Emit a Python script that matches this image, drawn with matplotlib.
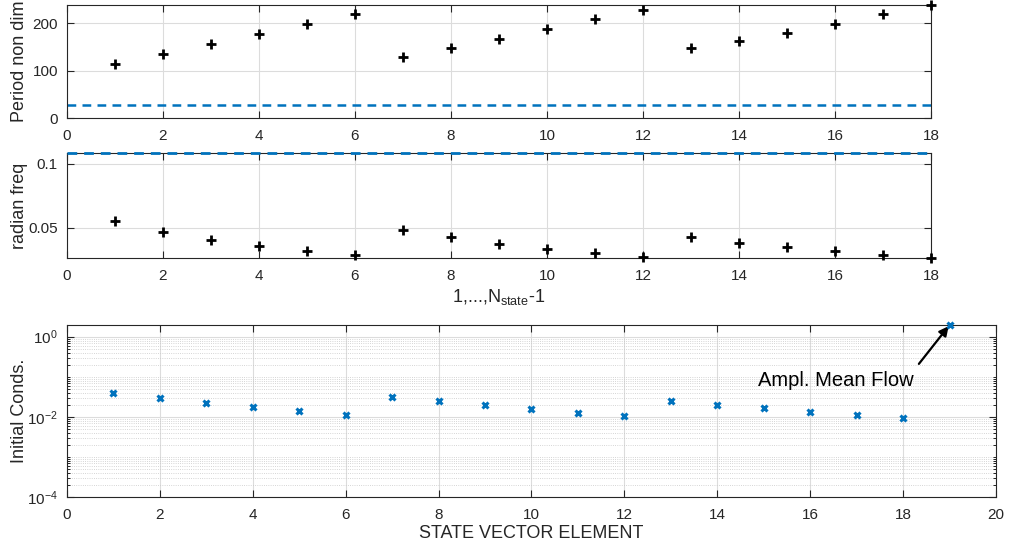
import numpy as np
import matplotlib
matplotlib.use('Agg')
import matplotlib.pyplot as plt
from matplotlib.ticker import LogLocator, NullFormatter, FixedLocator

plt.rcParams['font.family'] = ['Liberation Sans', 'DejaVu Sans']
plt.rcParams['mathtext.fontset'] = 'custom'
plt.rcParams['mathtext.rm'] = 'Liberation Sans'

# data
mode_idx = np.arange(1, 19)
period = [114, 135, 156, 176, 198, 219, 129, 147, 167, 187.5, 208, 228,
          148, 163, 180, 199, 219, 237]
period_limit = 27
rad_freq = [0.0551, 0.0465, 0.0403, 0.0357, 0.0317, 0.0287, 0.0487, 0.0427,
            0.0376, 0.0335, 0.0302, 0.0276, 0.0425, 0.0385, 0.0349, 0.0316,
            0.0287, 0.0265]
freq_limit = 0.1084
state_idx = np.arange(1, 20)
init_conds = [0.0395, 0.029, 0.0222, 0.0173, 0.0138, 0.011, 0.0319, 0.0254,
              0.0194, 0.0158, 0.0128, 0.0104, 0.0249, 0.0202, 0.0163, 0.0135,
              0.011, 0.0094, 1.95]

blue = '#0072BD'
dark = '#262626'
fs = 11        # tick labels
lfs = 13       # axis labels


def matlab_style(ax):
    ax.tick_params(direction='in', length=5, width=0.8, colors=dark,
                   labelsize=fs, top=True, right=True, which='major')
    ax.tick_params(axis='x', which='major', pad=8)
    ax.tick_params(axis='y', which='major', pad=6.5)
    ax.tick_params(direction='in', length=2.5, width=0.6, top=False,
                   right=True, which='minor')
    for s in ax.spines.values():
        s.set_color(dark)
        s.set_linewidth(0.8)
    ax.grid(True, which='major', color='#dcdcdc', lw=0.8)
    ax.set_axisbelow(True)


fig = plt.figure(figsize=(10.09, 5.54), dpi=100)

# period panel
ax1 = fig.add_axes([0.0664, 0.787, 0.8563, 0.204])
matlab_style(ax1)
ax1.plot(mode_idx, period, ls='none', marker='+', ms=7, mew=2, color='k',
         clip_on=False, zorder=5)
ax1.axhline(period_limit, color=blue, ls='--', lw=1.8, dashes=(3.5, 2.5))
ax1.set_xlim(0, 18)
ax1.set_ylim(0, 238)
ax1.set_xticks(np.arange(0, 19, 2))
ax1.set_yticks([0, 100, 200])
ax1.set_ylabel('Period non dim', fontsize=lfs, color=dark)
ax1.yaxis.set_label_coords(-0.045, 0.5)

# frequency panel
ax2 = fig.add_axes([0.0664, 0.5343, 0.8563, 0.1895])
matlab_style(ax2)
ax2.plot(mode_idx, rad_freq, ls='none', marker='+', ms=7, mew=2, color='k',
         clip_on=False, zorder=5)
ax2.axhline(freq_limit, color=blue, ls='--', lw=2, dashes=(3.5, 2.5),
            clip_on=False, zorder=6)
ax2.set_xlim(0, 18)
ax2.set_ylim(0.0265, freq_limit)
ax2.set_xticks(np.arange(0, 19, 2))
ax2.set_yticks([0.05, 0.1])
ax2.set_yticklabels(['0.05', '0.1'])
ax2.set_ylabel('radian freq', fontsize=lfs, color=dark)
ax2.yaxis.set_label_coords(-0.045, 0.5)
ax2.set_xlabel(r'1,...,N$\mathregular{_{state}}$-1', fontsize=lfs, color=dark,
               labelpad=3)

# initial conditions panel
ax3 = fig.add_axes([0.0664, 0.1023, 0.9207, 0.311])
ax3.set_yscale('log')
matlab_style(ax3)
ax3.grid(True, which='minor', axis='y', color='#c8c8c8', lw=0.6, ls=':')
ax3.plot(state_idx, init_conds, ls='none', marker='x', ms=4.5, mew=2.2,
         color=blue, clip_on=False, zorder=5)
ax3.set_xlim(0, 20)
ax3.set_ylim(1e-4, 1.95)
ax3.set_xticks(np.arange(0, 21, 2))
ax3.yaxis.set_major_locator(FixedLocator([1e-4, 1e-2, 1e0]))
ax3.set_yticklabels([r'$\mathregular{10^{-4}}$', r'$\mathregular{10^{-2}}$',
                     r'$\mathregular{10^{0}}$'])
ax3.yaxis.set_minor_locator(LogLocator(base=10, subs=np.arange(1, 10),
                                       numticks=50))
ax3.yaxis.set_minor_formatter(NullFormatter())
ax3.set_ylabel('Initial Conds.', fontsize=lfs, color=dark)
ax3.yaxis.set_label_coords(-0.042, 0.5)
ax3.set_xlabel('STATE VECTOR ELEMENT', fontsize=lfs, color=dark, labelpad=1.5)

ax3.annotate('', xy=(19, 1.95), xytext=(18.34, 0.21),
             arrowprops=dict(arrowstyle='-|>', color='k', lw=1.6,
                             mutation_scale=14, shrinkA=0, shrinkB=1))
ax3.text(14.87, 0.08, 'Ampl. Mean Flow', fontsize=14.5, color='k',
         va='center', ha='left')

fig.savefig('out.png', dpi=100)
